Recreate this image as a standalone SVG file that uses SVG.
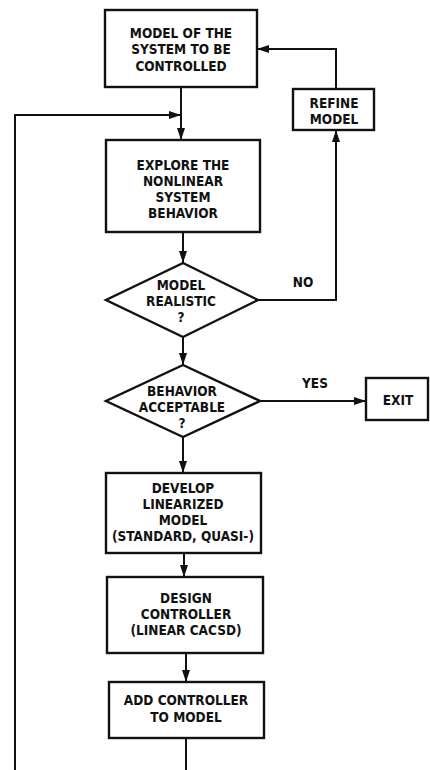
<svg xmlns="http://www.w3.org/2000/svg" width="430" height="770" viewBox="0 0 430 770">
<defs>
<style>
.box{fill:#fff;stroke:#111;stroke-width:2.4}
.ln{fill:none;stroke:#111;stroke-width:2}
text{font-family:"Liberation Sans Narrow","DejaVu Sans Condensed","Liberation Sans",sans-serif;font-weight:bold;font-size:13.5px;fill:#111;text-anchor:middle}
</style>
<marker id="ah" viewBox="0 0 12 10" refX="12" refY="5" markerWidth="12" markerHeight="10" markerUnits="userSpaceOnUse" orient="auto">
<path d="M0,1 L12,5 L0,9 Z" fill="#111"/>
</marker>
</defs>
<rect width="430" height="770" fill="#fff"/>
<g id="connectors">
<line class="ln" x1="181" y1="87" x2="181" y2="140" marker-end="url(#ah)"/>
<polyline class="ln" points="15,770 15,115 181,115" marker-end="url(#ah)"/>
<line class="ln" x1="183" y1="232" x2="183" y2="263" marker-end="url(#ah)"/>
<polyline class="ln" points="258,300 336,300 336,130" marker-end="url(#ah)"/>
<polyline class="ln" points="336,89 336,49 257,49" marker-end="url(#ah)"/>
<line class="ln" x1="183" y1="337" x2="183" y2="365" marker-end="url(#ah)"/>
<line class="ln" x1="260" y1="401" x2="366" y2="401" marker-end="url(#ah)"/>
<line class="ln" x1="183" y1="437" x2="183" y2="473" marker-end="url(#ah)"/>
<line class="ln" x1="184" y1="553" x2="184" y2="577" marker-end="url(#ah)"/>
<line class="ln" x1="186" y1="653" x2="186" y2="682" marker-end="url(#ah)"/>
<line class="ln" x1="186" y1="738" x2="186" y2="770"/>
</g>
<g id="model">
<rect class="box" x="105" y="10" width="152" height="77"/>
<text x="181" y="38">MODEL OF THE</text>
<text x="181" y="54">SYSTEM TO BE</text>
<text x="181" y="71">CONTROLLED</text>
</g>
<g id="refine">
<rect class="box" x="293" y="89" width="81" height="41"/>
<text x="334" y="108">REFINE</text>
<text x="334" y="124">MODEL</text>
</g>
<g id="explore">
<rect class="box" x="106" y="140" width="154" height="92"/>
<text x="183" y="170">EXPLORE THE</text>
<text x="183" y="186">NONLINEAR</text>
<text x="183" y="202">SYSTEM</text>
<text x="183" y="218">BEHAVIOR</text>
</g>
<g id="realistic">
<polygon class="box" points="183,263 258,300 183,337 106,300"/>
<text x="181" y="290">MODEL</text>
<text x="181" y="306">REALISTIC</text>
<text x="181" y="322">?</text>
</g>
<text x="303" y="287">NO</text>
<g id="acceptable">
<polygon class="box" points="183,365 260,401 183,437 106,401"/>
<text x="182" y="396">BEHAVIOR</text>
<text x="182" y="412">ACCEPTABLE</text>
<text x="182" y="428">?</text>
</g>
<text x="315" y="388">YES</text>
<g id="exit">
<rect class="box" x="366" y="378" width="62" height="42"/>
<text x="398" y="405">EXIT</text>
</g>
<g id="linearize">
<rect class="box" x="106" y="473" width="155" height="80"/>
<text x="183" y="493">DEVELOP</text>
<text x="183" y="509">LINEARIZED</text>
<text x="183" y="525">MODEL</text>
<text x="183" y="541">(STANDARD, QUASI-)</text>
</g>
<g id="design">
<rect class="box" x="107" y="577" width="156" height="76"/>
<text x="186" y="603">DESIGN</text>
<text x="186" y="619">CONTROLLER</text>
<text x="186" y="635">(LINEAR CACSD)</text>
</g>
<g id="add">
<rect class="box" x="109" y="682" width="155" height="56"/>
<text x="186" y="705">ADD CONTROLLER</text>
<text x="186" y="722">TO MODEL</text>
</g>
</svg>
